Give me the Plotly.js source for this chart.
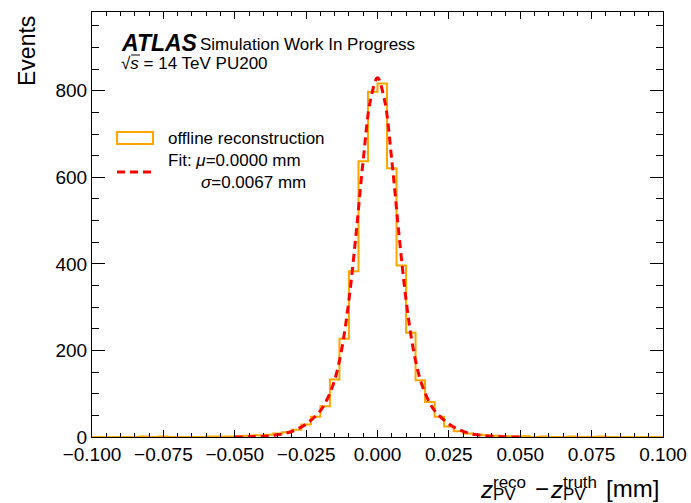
<!DOCTYPE html>
<html>
<head>
<meta charset="utf-8">
<script src="https://cdn.plot.ly/plotly-3.0.1.min.js"></script>
<style>html,body{margin:0;padding:0;background:#fff;}#chart{width:691px;height:503px;}</style>
</head>
<body>
<div id="chart"></div>
<script>
// ---- data ----
const xMin = -0.1;
const xMax = 0.1;
const nBins = 60;
// counts per bin, bins of width (xMax-xMin)/nBins starting at xMin
const counts = [
  0, 0, 0, 0, 0, 1, 0, 1, 0, 0,
  0, 0, 1, 1, 1, 2, 3, 4, 5, 8,
  11, 17, 29, 47, 71, 133, 227, 383, 637, 798,
  817, 621, 396, 241, 131, 81, 47, 24, 13, 8,
  5, 4, 3, 2, 1, 2, 0, 1, 0, 0,
  1, 0, 0, 1, 0, 0, 0, 0, 0, 0
];
const fitX = [-0.05, -0.045, -0.04, -0.035, -0.03, -0.025, -0.02, -0.0175, -0.015, -0.0125, -0.01, -0.0075, -0.005, -0.0025, 0,
              0.0025, 0.005, 0.0075, 0.01, 0.0125, 0.015, 0.0175, 0.02, 0.025, 0.03, 0.035, 0.04, 0.045, 0.05];
const fitY = [0.1, 0.5, 1.7, 5, 13, 30, 61, 89, 132, 204, 317, 470, 640, 777, 830,
              777, 640, 470, 317, 204, 132, 89, 61, 30, 13, 5, 1.7, 0.5, 0.1];
const histName = 'offline reconstruction';
const fitLine1 = 'Fit: <i>μ</i>=0.0000 mm';
const fitLine2 = '<i>σ</i>=0.0067 mm';
const yTitle = 'Events';

// ---- build traces ----
const bw = (xMax - xMin) / nBins;
const hx = [], hy = [];
for (let i = 0; i < nBins; i++) { hx.push(xMin + i * bw); hy.push(counts[i]); }
hx.push(xMax); hy.push(counts[nBins - 1]);

const FONT = 'Liberation Sans, Arial, Helvetica, sans-serif';

const traces = [
  {x: hx, y: hy, type: 'scatter', mode: 'lines', line: {shape: 'hv', color: '#FFA500', width: 2}, name: histName, showlegend: false, hoverinfo: 'skip'},
  {x: fitX, y: fitY, type: 'scatter', mode: 'lines', line: {shape: 'spline', smoothing: 1, color: '#FF0000', width: 3, dash: '8px,5px'}, name: 'Fit', showlegend: false, hoverinfo: 'skip'}
];

const W = 691, H = 503;
const L = 92, R = 28, T = 12, B = 66;
const pw = W - L - R, ph = H - T - B;
const px = v => (v - L) / pw;          // pixel -> paper x
const py = v => (H - B - v) / ph;      // pixel -> paper y

function ann(text, xp, yp, size, opts) {
  return Object.assign({text: text, xref: 'paper', yref: 'paper', x: px(xp), y: py(yp),
    xanchor: 'left', yanchor: 'middle', showarrow: false, borderpad: 0, borderwidth: 0,
    font: {family: FONT, size: size, color: '#000'}}, opts || {});
}
function stack(top, bottom) {
  return '<span style="font-size:17px">' + top + '</span><br><span style="font-size:17px">' + bottom + '</span>';
}

const annotations = [
  ann('<b><i>ATLAS</i></b>', 121, 43, 23),
  ann('Simulation Work In Progress', 200, 45, 17),
  ann('√<i>s</i> = 14 TeV PU200', 121, 63, 17),
  ann(histName, 168, 138, 17),
  ann(fitLine1, 168, 160, 17),
  ann(fitLine2, 201, 182, 17),
  // y title
  {text: yTitle, xref: 'paper', yref: 'paper', x: px(27), y: py(14), xanchor: 'center', yanchor: 'top',
   textangle: -90, showarrow: false, font: {family: FONT, size: 23, color: '#000'}},
  // x title pieces
  ann('<i>z</i>', 480, 489, 24),
  ann(stack('reco', 'PV'), 493, 488, 9, {align: 'left'}),
  ann('−', 535, 488, 24),
  ann('<i>z</i>', 550, 489, 24),
  ann(stack('truth', 'PV'), 563, 488, 9, {align: 'left'}),
  ann('[mm]', 606, 488, 24)
];

const shapes = [
  {type: 'rect', xref: 'paper', yref: 'paper', x0: px(117), x1: px(153), y0: py(144), y1: py(132),
   line: {color: '#FFA500', width: 2}, fillcolor: 'rgba(0,0,0,0)'},
  {type: 'line', xref: 'paper', yref: 'paper', x0: px(117), x1: px(153), y0: py(172), y1: py(172),
   line: {color: '#FF0000', width: 3, dash: '8px,5px'}},
  // overline of the square root
  {type: 'line', xref: 'paper', yref: 'paper', x0: px(131), x1: px(140), y0: py(55), y1: py(55),
   line: {color: '#000', width: 1}}
];

const layout = {
  width: W, height: H,
  margin: {l: L, r: R, t: T, b: B, pad: 0},
  paper_bgcolor: '#fff', plot_bgcolor: '#fff',
  showlegend: false,
  font: {family: FONT, size: 19, color: '#000'},
  xaxis: {
    range: [xMin, xMax], dtick: 0.025, tick0: 0, tickformat: '.3f',
    ticks: 'inside', ticklen: 7, tickwidth: 1, tickcolor: '#000',
    minor: {dtick: 0.005, ticks: 'inside', ticklen: 4, tickcolor: '#000'},
    showline: true, linecolor: '#000', linewidth: 1, mirror: 'ticks',
    showgrid: false, zeroline: false,
    tickfont: {family: FONT, size: 19, color: '#000'}
  },
  yaxis: {
    range: [0, 982], dtick: 200, tick0: 0,
    ticks: 'inside', ticklen: 13, tickwidth: 1, tickcolor: '#000',
    minor: {dtick: 50, ticks: 'inside', ticklen: 7, tickcolor: '#000'},
    showline: true, linecolor: '#000', linewidth: 1, mirror: 'ticks',
    showgrid: false, zeroline: false,
    tickfont: {family: FONT, size: 19, color: '#000'}
  },
  annotations: annotations,
  shapes: shapes
};

Plotly.newPlot('chart', traces, layout, {staticPlot: true, displayModeBar: false});
</script>
</body>
</html>
